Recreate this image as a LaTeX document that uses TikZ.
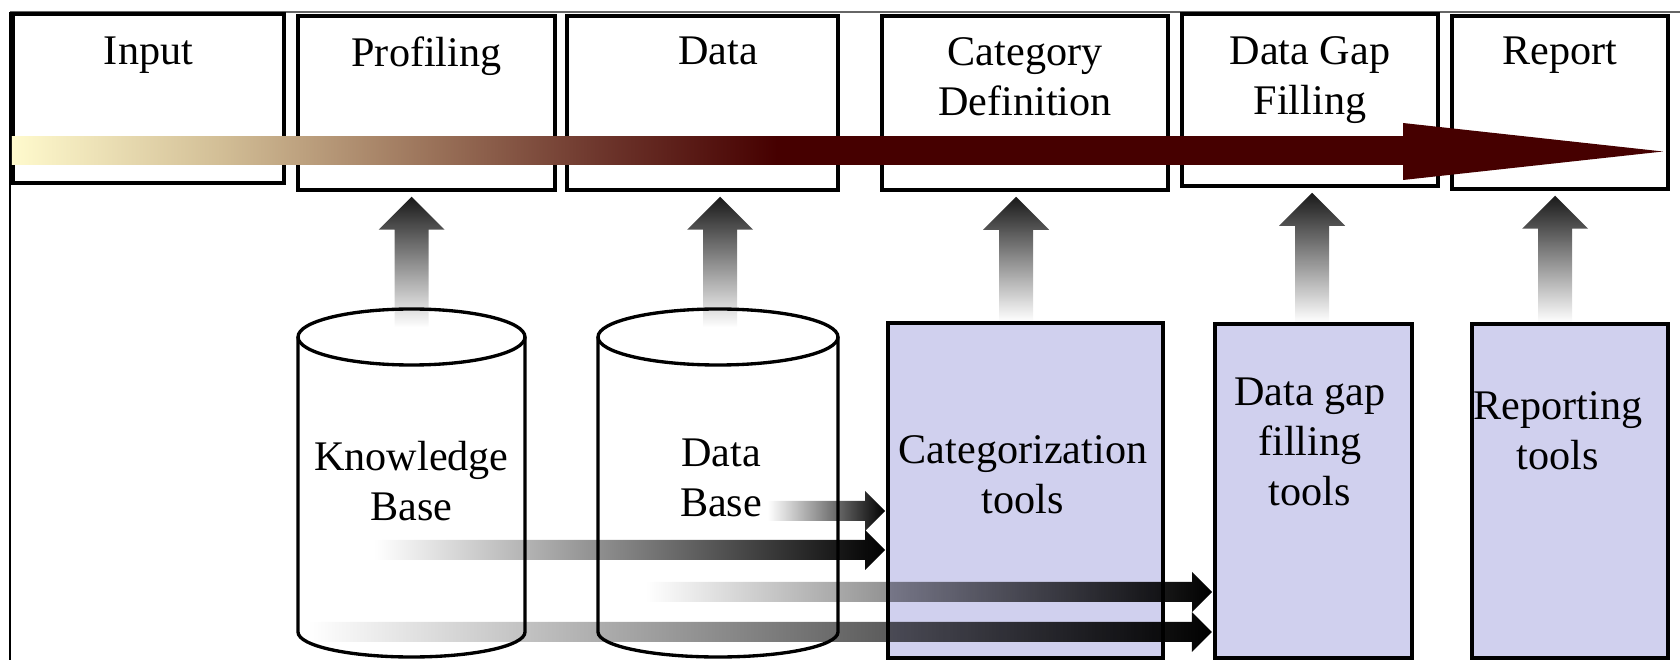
\documentclass[tikz,border=0pt]{standalone}
\usepackage{fontspec}
\setmainfont{Liberation Serif}
\usetikzlibrary{positioning, calc, fadings}

\definecolor{flowdark}{HTML}{460000}
\definecolor{barA}{RGB}{255,250,205}
\definecolor{barB}{RGB}{210,190,150}
\definecolor{barC}{RGB}{155,115,90}
\definecolor{barD}{RGB}{110,55,45}
\definecolor{toolfill}{RGB}{208,208,238}

% cream -> maroon timeline shading
\pgfdeclarehorizontalshading{timeline}{100bp}{color(0bp)=(barA); color(25bp)=(barA);
  color(32.5bp)=(barB); color(40bp)=(barC); color(46bp)=(barD);
  color(52.5bp)=(flowdark); color(100bp)=(flowdark)}
\tikzfading[name=faderight, left color=transparent!100, right color=transparent!0]
\tikzfading[name=fadeup, top color=transparent!0, middle color=transparent!30,
  bottom color=transparent!100]

% database cylinder: name, centre x, x radius
\newcommand{\dbcyl}[3]{%
  \draw[line width=0.95pt, fill=white] (#2-#3,323) -- (#2-#3,28)
    arc[start angle=180, end angle=360, x radius=#3, y radius=25] -- (#2+#3,323);
  \draw[line width=0.95pt, fill=white] (#2,323) ellipse [x radius=#3, y radius=28];
  \coordinate (#1) at (#2,323);
}
% fat faded arrow up: foot, stage box
\newcommand{\upflow}[2]{%
  \fill[black!90, path fading=fadeup] let \p1=(#1), \p2=(#2.south) in
    (\x1-1.7mm,\y1) -- (\x1-1.7mm,\y2-3.8mm) -- (\x1-3.3mm,\y2-3.8mm)
    -- (\x1,\y2-0.5mm) -- (\x1+3.3mm,\y2-3.8mm) -- (\x1+1.7mm,\y2-3.8mm)
    -- (\x1+1.7mm,\y1) -- cycle;
}
% fat faded arrow right: start, tool box
\newcommand{\rightflow}[2]{%
  \fill[black, path fading=faderight] let \p1=(#1), \p2=(#2.west) in
    (\x1,\y1-1mm) -- (\x2-2.1mm,\y1-1mm) -- (\x2-2.1mm,\y1-2mm)
    -- (\x2-0.1mm,\y1) -- (\x2-2.1mm,\y1+2mm) -- (\x2-2.1mm,\y1+1mm)
    -- (\x1,\y1+1mm) -- cycle;
}

\begin{document}
\begin{tikzpicture}[x=0.1mm, y=0.1mm,
  stagebox/.style={draw, line width=1pt, fill=white, inner sep=0pt},
  toolbox/.style={draw, line width=1.1pt, fill=toolfill, inner sep=0pt},
  stagetext/.style={font=\fontsize{12}{14.2}\selectfont, align=center, inner sep=0pt, outer sep=0pt}]
  \useasboundingbox (0,0) rectangle (1680,660);

  % outer frame
  \draw[line width=0.8pt, black!60] (10,648) -- (1680,648);
  \draw[line width=0.7pt] (10,0) -- (10,648);

  % process stages
  \node[stagebox, minimum width=27.1mm, minimum height=16.9mm] (input) at (148.5,561.5) {};
  \node[stagebox, minimum width=25.7mm, minimum height=17.4mm] (profiling) at (426.5,557) {};
  \node[stagebox, minimum width=27.1mm, minimum height=17.4mm] (data) at (702.5,557) {};
  \node[stagebox, minimum width=28.6mm, minimum height=17.4mm] (catdef) at (1025,557) {};
  \node[stagebox, minimum width=25.6mm, minimum height=17.2mm] (gapfill) at (1310,560) {};
  \node[stagebox, minimum width=21.6mm, minimum height=17.3mm] (report) at (1560,557.5) {};

  \node[stagetext, below=2.5mm of input.north] (inputtext) {Input};
  \node[stagetext, below=2.3mm of profiling.north] (proftext) {Profiling};
  \node[stagetext, below=2.3mm of data.north, xshift=1.55mm] (datatext) {Data};
  \node[stagetext, below=2.3mm of catdef.north] (catdeftext) {Category\\Definition};
  \node[stagetext, below=2.4mm of gapfill.north] (gapfilltext) {Data Gap\\Filling};
  \node[stagetext, below=2.3mm of report.north] (reporttext) {Report};

  % timeline arrow
  \shade[shading=timeline] (12,495) rectangle (1403,523);
  \fill[flowdark] (1403,480) -- (1663,508.5) -- (1403,537) -- cycle;

  % data sources
  \dbcyl{kb}{411.5}{113.5}
  \dbcyl{db}{718}{120}
  \node[stagetext, below=10.4mm of kb] (kbtext) {Knowledge\\Base};
  \node[stagetext, below=10.2mm of db, xshift=0.3mm] (dbtext) {Data\\Base};

  % tools
  \node[toolbox, minimum width=27.5mm, minimum height=33.5mm] (cattools) at (1025.5,169.5) {};
  \node[toolbox, minimum width=19.7mm, minimum height=33.4mm] (gaptools) at (1313.5,169) {};
  \node[toolbox, minimum width=19.6mm, minimum height=33.4mm] (reptools) at (1570,169) {};
  \node[stagetext, below=11.5mm of cattools.north, xshift=-0.25mm] (cattext) {Categorization\\tools};
  \node[stagetext, below=5.6mm of gaptools.north, xshift=-0.35mm] (gaptext) {Data gap\\filling\\tools};
  \node[stagetext, below=7mm of reptools.north, xshift=-1.2mm] (reptext) {Reporting\\tools};

  % feeds upward
  \upflow{$(kb)+(0,10)$}{profiling}
  \upflow{$(db)+(2,10)$}{data}
  \upflow{$(cattools.north)+(-9.5,0)$}{catdef}
  \upflow{$(gaptools.north)+(-1.5,0)$}{gapfill}
  \upflow{$(reptools.north)+(-15,0)$}{report}

  % feeds to tools
  \coordinate (f1) at (768,149);
  \coordinate (f2) at (375,110);
  \coordinate (f3) at (647,68);
  \coordinate (f4) at (310,28);
  \rightflow{f1}{cattools}
  \rightflow{f2}{cattools}
  \rightflow{f3}{gaptools}
  \rightflow{f4}{gaptools}
\end{tikzpicture}
\end{document}
